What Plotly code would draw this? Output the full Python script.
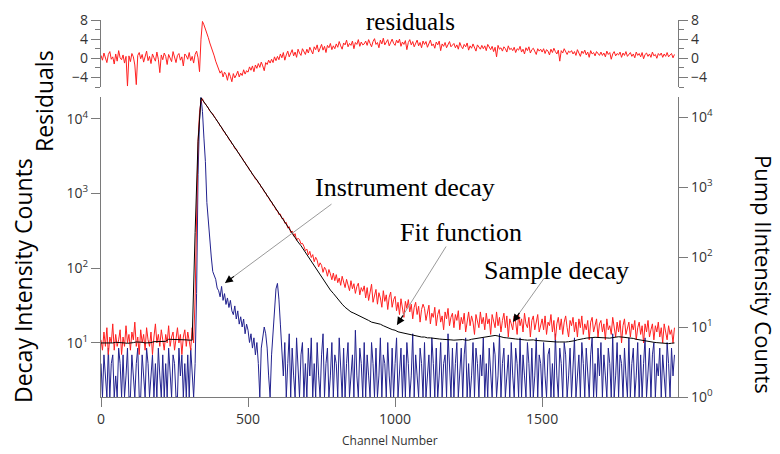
import plotly.graph_objects as go

# ---------------- data ----------------
# noisy traces: one value every 5 channels; fit function: one value every 10 channels
channel = list(range(0, 1955, 5))
fit_channel = list(range(0, 1960, 10))

residuals = [
    0.6, -0.4, 1.1, 0.2, -0.9, 0.8, 1.4, -0.2, 0.3, -1.2, 0.9, -0.6, 1.6, 0.1, -0.3, 0.7, -1.0, 0.4, -5.8, 0.5,
    -0.7, 1.0, 0.3, -1.4, -5.5, 0.6, 1.2, -0.1, 0.8, -0.8, 0.2, 1.5, -0.5, 0.4, -1.1, 0.9, 0.1, -0.6, 1.3, -0.2,
    -3.0, 0.7, -0.3, 1.1, 0.4, -1.3, 0.8, 0.0, -0.7, 1.4, 0.2, -0.9, 0.6, 1.0, -0.4, 0.3, -1.6, 0.9, 0.5, -0.2,
    1.2, -0.5, 0.4, -1.0, 0.8, 1.5, 0.1, -2.8, 4.0, 7.7, 7.0, 6.2, 5.0, 4.3, 3.2, 2.4, 1.2, 0.5, -0.6, -1.4,
    -2.0, -3.1, -2.6, -3.9, -2.9, -3.4, -4.6, -3.0, -3.8, -4.9, -3.2, -4.1, -3.5, -2.7, -3.9, -3.1, -3.6, -2.4, -3.3, -2.6,
    -2.9, -1.8, -2.5, -1.6, -2.8, -1.4, -2.1, -1.1, -1.9, -0.8, -1.6, -2.6, -0.9, -1.3, -0.4, -1.0, -0.2, -0.9, 0.3, -0.5,
    0.4, -0.3, 0.9, 0.1, 1.2, -0.4, 0.7, 1.5, 0.3, 1.0, 1.8, 0.5, 1.3, 0.2, 1.9, 1.1, 0.6, 2.0, 1.4, 0.8,
    1.9, 1.1, 2.3, 1.5, 0.9, 2.4, 1.8, 2.8, 1.3, 2.1, 2.9, 1.7, 2.5, 1.2, 2.7, 2.2, 3.1, 1.8, 2.6, 2.0,
    3.0, 2.3, 3.5, 2.6, 1.9, 3.2, 2.8, 3.8, 2.4, 3.1, 2.7, 3.6, 2.0, 3.3, 2.9, 3.9, 2.5, 3.4, 2.8, 3.0,
    3.6, 2.7, 3.9, 3.1, 2.4, 3.5, 4.1, 2.9, 3.3, 2.2, 3.8, 3.0, 4.2, 2.8, 3.4, 3.9, 2.6, 3.2, 4.0, 3.1,
    2.7, 3.8, 3.2, 4.0, 2.5, 3.4, 2.9, 3.7, 1.8, 3.3, 3.9, 2.8, 3.5, 2.4, 3.1, 3.8, 2.6, 3.3, 2.2, 3.6,
    2.9, 3.5, 2.3, 3.2, 3.8, 2.6, 3.0, 2.1, 3.4, 2.8, 3.6, 1.6, 3.0, 2.5, 3.3, 2.2, 2.9, 3.5, 2.4, 2.8,
    3.1, 2.2, 2.8, 1.9, 3.3, 2.5, 2.0, 2.9, 2.4, 3.2, 1.7, 2.6, 2.1, 3.0, 2.3, 1.5, 2.8, 2.4, 1.9, 2.7,
    2.0, 2.6, 1.6, 2.9, 2.2, 1.8, 2.5, 1.4, 2.3, 0.3, 2.7, 1.9, 2.2, 1.5, 2.4, 2.0, 1.3, 2.6, 1.8, 2.1,
    1.6, 2.3, 1.2, 2.0, 1.7, 2.5, 1.3, 1.9, 0.9, 2.2, 1.6, 2.4, 1.1, 1.8, 2.1, 1.4, 0.8, 2.0, 1.5, 1.9,
    1.3, 2.0, 1.0, 1.8, 1.5, 0.7, 1.9, 1.2, 2.1, 1.4, 0.9, 1.7, -0.6, 1.6, 1.1, 2.0, 1.3, 0.8, 1.5, 1.2,
    1.6, 0.9, 1.4, 0.6, 1.8, 1.1, 0.4, 1.5, 1.0, 1.7, 0.7, 1.3, 0.2, 1.6, 0.9, 1.2, 0.5, 1.4, 1.0, 0.6,
    1.3, 0.6, 1.1, 0.3, 1.5, 0.8, 1.2, -0.2, 0.9, 1.4, 0.5, 1.0, 0.7, 1.3, 0.2, 1.1, 0.6, 1.4, 0.4, 0.9,
    1.2, 0.4, 0.9, 0.1, 1.3, 0.6, 1.0, 0.3, 1.2, -0.1, 0.8, 1.1, 0.4, 0.9, 0.2, 1.3, 0.5, 0.8, 0.0, 1.0,
    0.6, 1.1, 0.2, 0.9, 0.4, 1.2, 0.3, 0.7, 1.0, 0.1, 0.8,
]

sample_decay = [
    11, 8, 14, 9, 16, 7, 12, 10, 18, 8, 13, 9, 11, 15, 7, 12, 9, 17, 10, 13,
    8, 14, 11, 19, 9, 12, 7, 15, 10, 13, 8, 16, 11, 9, 14, 7, 12, 18, 10, 13,
    9, 15, 11, 8, 13, 10, 17, 9, 12, 14, 8, 11, 16, 10, 13, 7, 12, 15, 9, 14,
    11, 8, 16, 10, 40, 900, 5000, 12000, 17000, 18500, 16500, 15700, 15000, 13900, 12600, 12100, 11600, 10700, 9800, 9300,
    8800, 8000, 7700, 6900, 6700, 6050, 5850, 5250, 5100, 4600, 4450, 3980, 3950, 3560, 3420, 3100, 3000, 2700, 2610, 2350,
    2280, 2050, 1980, 1780, 1730, 1550, 1530, 1380, 1340, 1200, 1170, 1050, 1020, 910, 890, 795, 775, 690, 675, 600,
    590, 520, 530, 460, 465, 400, 410, 345, 360, 300, 315, 268, 290, 236, 252, 240, 212, 215, 196, 172,
    180, 150, 168, 139, 152, 122, 140, 128, 104, 118, 109, 88, 103, 95, 78, 96, 84, 70, 86, 68,
    82, 64, 74, 59, 78, 66, 55, 71, 60, 50, 68, 53, 62, 46, 57, 63, 44, 55, 49, 58,
    40, 55, 37, 49, 61, 35, 45, 52, 33, 47, 40, 30, 50, 36, 44, 28, 41, 48, 30, 38,
    42, 27, 35, 24, 39, 31, 22, 36, 29, 38, 26, 33, 21, 30, 35, 24, 31, 19, 28, 33,
    29, 20, 26, 32, 18, 25, 22, 30, 17, 24, 28, 19, 23, 15, 26, 21, 29, 17, 22, 25,
    16, 24, 20, 27, 15, 22, 18, 25, 14, 21, 26, 17, 23, 19, 13, 24, 20, 16, 26, 18,
    22, 15, 25, 18, 21, 13, 24, 19, 16, 26, 17, 22, 14, 20, 25, 16, 23, 12, 21, 18,
    15, 23, 19, 13, 24, 17, 21, 14, 25, 18, 16, 22, 12, 20, 23, 15, 19, 24, 14, 18,
    21, 15, 23, 13, 19, 17, 24, 14, 20, 11, 18, 22, 15, 21, 13, 19, 23, 16, 12, 20,
    17, 22, 14, 19, 12, 21, 16, 23, 13, 18, 15, 20, 11, 19, 22, 14, 17, 21, 12, 18,
    20, 14, 18, 11, 21, 15, 17, 13, 22, 16, 12, 19, 14, 20, 10, 17, 21, 13, 16, 19,
    12, 18, 15, 20, 11, 16, 19, 13, 17, 10, 18, 14, 20, 12, 15, 18, 11, 17, 14, 19,
    12, 16, 10, 18, 14, 11, 17, 13, 15, 10, 16,
]

instrument_decay = [
    3, 1, 4, 2, 1, 5, 1, 3, 4, 1, 2, 1, 5, 3, 1, 4, 1, 2, 5, 1,
    1, 4, 2, 1, 3, 5, 1, 1, 4, 2, 1, 5, 3, 1, 2, 4, 1, 3, 1, 5,
    2, 1, 4, 1, 3, 1, 5, 2, 1, 4, 3, 1, 1, 5, 2, 4, 1, 3, 1, 4,
    1, 5, 2, 1, 3, 30, 1500, 9000, 19000, 12000, 5000, 2300, 600, 300, 180, 100, 62, 55, 48, 36,
    33, 27, 38, 24, 30, 21, 26, 19, 24, 17, 15, 20, 13, 17, 11, 14, 10, 13, 8, 11,
    9, 6, 8, 5, 7, 4, 6, 3, 1, 5, 7, 10, 8, 5, 2, 1, 4, 8, 18, 35,
    42, 25, 11, 4, 2, 6, 1, 3, 8, 1, 5, 2, 1, 7, 3, 1, 4, 6, 1, 3,
    1, 5, 2, 7, 1, 3, 1, 6, 2, 1, 4, 8, 1, 3, 5, 1, 2, 6, 1, 4,
    3, 1, 7, 2, 1, 5, 1, 3, 6, 1, 2, 4, 1, 9, 2, 1, 5, 3, 1, 6,
    1, 4, 2, 1, 6, 3, 1, 5, 1, 2, 7, 1, 4, 3, 1, 6, 2, 1, 5, 1,
    3, 7, 1, 2, 5, 1, 4, 1, 6, 3, 1, 2, 8, 1, 4, 2, 1, 5, 3, 1,
    6, 1, 2, 4, 1, 7, 3, 1, 5, 1, 2, 6, 1, 3, 4, 1, 8, 2, 1, 5,
    1, 3, 6, 1, 2, 5, 1, 4, 7, 1, 3, 1, 2, 6, 1, 5, 3, 1, 4, 2,
    7, 1, 3, 1, 5, 2, 1, 6, 4, 1, 2, 8, 1, 3, 5, 1, 2, 4, 1, 6,
    2, 1, 5, 3, 1, 7, 1, 4, 2, 1, 6, 3, 1, 5, 1, 2, 7, 1, 4, 3,
    1, 6, 2, 1, 4, 5, 1, 3, 1, 8, 2, 1, 5, 3, 1, 6, 4, 1, 2, 5,
    1, 3, 7, 1, 2, 4, 1, 6, 3, 1, 5, 2, 1, 4, 7, 1, 3, 1, 5, 2,
    6, 1, 4, 2, 1, 5, 3, 1, 8, 1, 2, 6, 1, 4, 3, 1, 5, 2, 1, 7,
    1, 3, 5, 1, 2, 6, 1, 4, 1, 3, 7, 1, 2, 5, 1, 4, 6, 1, 3, 2,
    5, 1, 4, 2, 1, 6, 3, 1, 5, 2, 4,
]

fit_function = [
    10.0, 10.0, 9.8, 9.8, 10.0, 10.2, 10.2, 10.0, 10.0, 9.9,
    9.9, 10.1, 10.3, 10.3, 10.2, 10.0, 10.0, 10.1, 10.4, 10.4,
    10.6, 10.6, 10.5, 11.2, 11.2, 11.0, 11.0, 11.0, 11.1, 11.0,
    10.9, 10.9, 300, 5000, 19000, 17000, 14791, 12882, 11482, 10000,
    8710, 7586, 6607, 5754, 5012, 4365, 3890, 3388, 2951, 2570,
    2239, 1950, 1698, 1514, 1318, 1148, 1000, 871, 759, 661,
    575, 513, 447, 389, 339, 295, 257, 224, 200, 174,
    151, 132, 115, 100, 87, 78, 68, 59, 51, 46,
    41, 36, 33, 30, 28, 26, 25, 24, 23, 22,
    21, 20, 19, 18.6, 18.2, 17.8, 17.0, 16.2, 15.8, 15.1,
    14.8, 14.1, 13.8, 13.5, 13.2, 12.9, 12.6, 12.3, 12.3, 12.0,
    12.0, 11.7, 11.7, 11.5, 11.5, 11.3, 11.2, 11.2, 11.0, 11.0,
    10.9, 11.0, 11.0, 11.1, 10.9, 10.9, 11.2, 11.4, 11.6, 11.6,
    11.8, 12.2, 12.3, 12.5, 12.6, 12.4, 12.0, 11.8, 11.7, 11.5,
    11.4, 11.3, 11.2, 11.0, 11.0, 10.9, 11.0, 11.0, 10.8, 10.7,
    10.6, 10.6, 10.5, 10.5, 10.4, 10.3, 10.3, 10.2, 10.3, 10.4,
    10.5, 10.7, 11.0, 11.3, 11.4, 11.6, 11.8, 11.8, 11.9, 11.8,
    11.7, 11.6, 11.5, 11.6, 11.8, 12.0, 12.1, 12.0, 11.9, 11.8,
    11.7, 11.5, 11.2, 11.0, 10.8, 10.6, 10.4, 10.3, 10.2, 10.1,
    10.0, 9.9, 9.8, 9.8, 9.9, 10.0,
]

x_ticks = [0, 500, 1000, 1500]
resid_ticks = [-4, 0, 4, 8]
resid_minor = [-6, -2, 2, 6]
decay_ticks = [10, 100, 1000, 10000]
decay_labels = ["10<sup>1</sup>", "10<sup>2</sup>", "10<sup>3</sup>", "10<sup>4</sup>"]
pump_ticks = [1, 10, 100, 1000, 10000]
pump_labels = ["10<sup>0</sup>", "10<sup>1</sup>", "10<sup>2</sup>", "10<sup>3</sup>", "10<sup>4</sup>"]

# ---------------- styling ----------------
# the page body has an 8 px margin, so the figure is 8 px smaller and shifted
OFF = 8
W, H = 780 - OFF, 454 - OFF
ML, MR, MT, MB = 101 - OFF, 102, 20 - OFF, 57
PW, PH = W - ML - MR, H - MT - MB


def px(xp, yp):
    """page pixel -> paper coordinates"""
    xf, yf = xp - OFF, yp - OFF
    return (xf - ML) / PW, (H - MB - yf) / PH


RED = "#ff2020"
BLUE = "#22228f"
AX = "#7a7a7a"
TICKFONT = dict(family="Open Sans", size=14, color="#333333")
SERIF = "Liberation Serif"

fig = go.Figure()

fig.add_trace(go.Scatter(x=channel, y=instrument_decay, mode="lines", xaxis="x2", yaxis="y2",
                         line=dict(color=BLUE, width=1), name="Instrument decay"))
fig.add_trace(go.Scatter(x=channel, y=sample_decay, mode="lines", xaxis="x2", yaxis="y3",
                         line=dict(color=RED, width=1), name="Sample decay"))
fig.add_trace(go.Scatter(x=fit_channel, y=fit_function, mode="lines", xaxis="x2", yaxis="y3",
                         line=dict(color="black", width=1), name="Fit function"))
fig.add_trace(go.Scatter(x=channel, y=residuals, mode="lines", xaxis="x", yaxis="y",
                         line=dict(color=RED, width=1), name="residuals"))
fig.add_trace(go.Scatter(x=channel, y=residuals, mode="lines", xaxis="x", yaxis="y4",
                         line=dict(color=RED, width=1), opacity=0, hoverinfo="skip",
                         showlegend=False))

top_dom = [px(0, 87)[1], 1.0]
bot_dom = [0.0, px(0, 97)[1]]

common_y = dict(showline=True, linecolor=AX, linewidth=1.2, ticks="outside", ticklen=9,
                tickcolor=AX, tickwidth=1.2, showgrid=False, zeroline=False, tickfont=TICKFONT,
                automargin=False)
minor_r = dict(tickmode="array", tickvals=resid_minor, ticks="outside", ticklen=5,
               tickcolor=AX, showgrid=False)

fig.update_layout(
    width=W, height=H,
    margin=dict(l=ML, r=MR, t=MT, b=MB, autoexpand=False),
    paper_bgcolor="white", plot_bgcolor="white",
    showlegend=False,
    xaxis=dict(domain=[0, 1], anchor="y", range=[0, 1962], visible=False, automargin=False),
    yaxis=dict(domain=top_dom, anchor="x", range=[-6, 8], tickmode="array", tickvals=resid_ticks,
               minor=minor_r, **common_y),
    yaxis4=dict(overlaying="y", side="right", anchor="x", range=[-6, 8], tickmode="array",
                tickvals=resid_ticks, minor=minor_r, **common_y),
    xaxis2=dict(domain=[0, 1], anchor="y2", range=[0, 1962], tickmode="array", tickvals=x_ticks,
                showline=True, linecolor=AX, linewidth=1.2, ticks="outside", ticklen=9,
                tickcolor=AX, tickwidth=1.2, showgrid=False, zeroline=False, tickfont=TICKFONT,
                automargin=False),
    yaxis2=dict(domain=bot_dom, anchor="x2", side="right", type="log", range=[0, 4.286],
                tickmode="array", tickvals=pump_ticks, ticktext=pump_labels, **common_y),
    yaxis3=dict(overlaying="y2", anchor="x2", side="left", type="log", range=[0.277, 4.29],
                tickmode="array", tickvals=decay_ticks, ticktext=decay_labels, **common_y),
)

ann = []


def text(xp, yp, t, size, family, angle=0, color="black"):
    x, y = px(xp, yp)
    ann.append(dict(x=x, y=y, xref="paper", yref="paper", text=t, showarrow=False,
                    xanchor="center", yanchor="middle", textangle=angle,
                    font=dict(family=family, size=size, color=color)))


def arrow(head, tail):
    x, y = px(*head)
    dx, dy = tail[0] - head[0], tail[1] - head[1]
    ann.append(dict(x=x, y=y, xref="paper", yref="paper", text="", showarrow=True,
                    ax=dx, ay=dy, arrowhead=0, arrowwidth=1, arrowcolor="#9a9a9a"))
    n = (dx * dx + dy * dy) ** 0.5
    ann.append(dict(x=x, y=y, xref="paper", yref="paper", text="", showarrow=True,
                    ax=dx / n * 13, ay=dy / n * 13, arrowhead=2, arrowsize=1.3, arrowwidth=1.2,
                    arrowcolor="black"))


text(410, 22, "residuals", 25, SERIF)
text(405, 187, "Instrument decay", 26, SERIF)
text(461, 232, "Fit function", 26, SERIF)
text(556, 270, "Sample decay", 26, SERIF)
text(44, 101, "Residuals", 23, "Open Sans", -90)
text(23, 281, "Decay Intensity Counts", 23, "Open Sans", -90)
text(764, 274, "Pump IIntensity Counts", 22, "Open Sans", 90)
text(390, 440, "Channel Number", 12, "Open Sans", 0, "#333333")

arrow((225, 283), (333, 203))
arrow((397, 325), (447, 245))
arrow((513, 322), (545, 277))

fig.update_layout(annotations=ann)
fig.write_html("out.html")
